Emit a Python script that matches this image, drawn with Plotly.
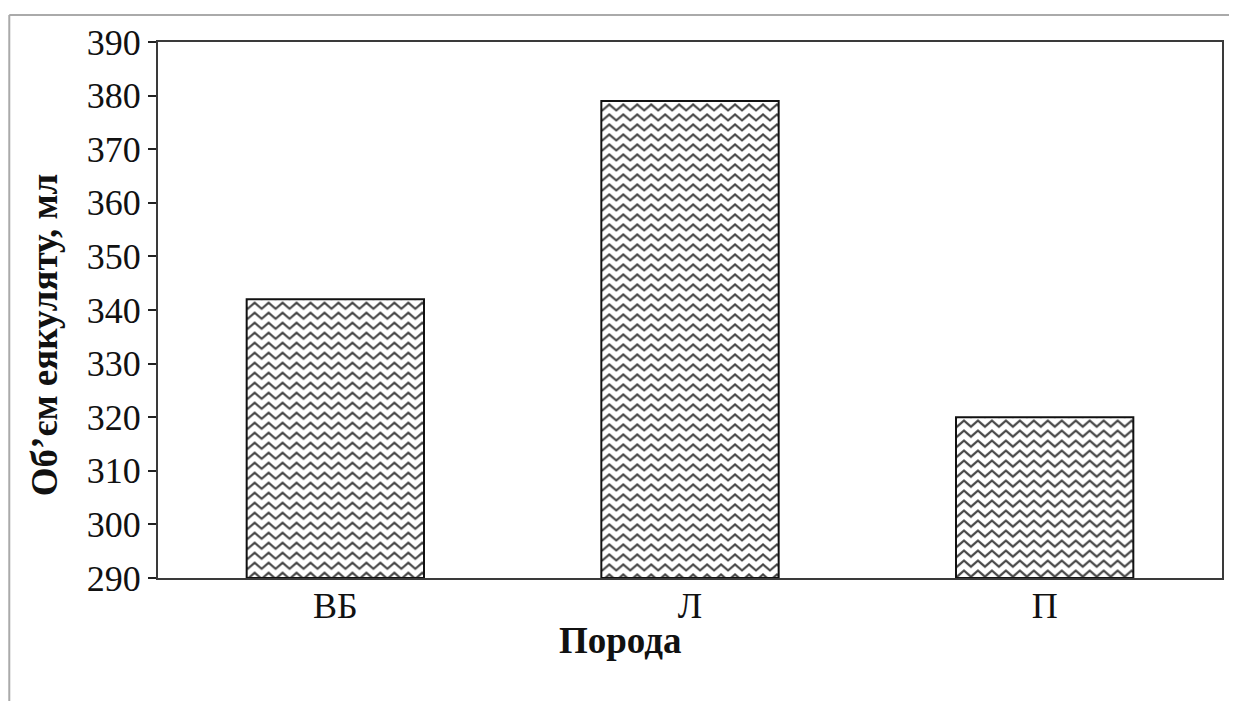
import base64
import plotly.graph_objects as go

categories = ["ВБ", "Л", "П"]
values = [342, 379, 320]
y_ticks = [290, 300, 310, 320, 330, 340, 350, 360, 370, 380, 390]

OFF = 8  # default page body margin
W, H = 1221, 693
ML, MT = 158 - OFF, 42 - OFF
MR = W - (1224 - OFF)
MB = H - (578 - OFF)
y_min, y_max = 290, 390
bar_w = 0.5
FONT = "Liberation Serif, Times New Roman, serif"

pw = W - ML - MR
ph = H - MT - MB
px_x = pw / 3.0
px_y = ph / (y_max - y_min)


def px2paper_x(px):
    return (px - OFF - ML) / pw


def px2paper_y(py):
    return (H - MB - (py - OFF)) / ph


def zigzag_uri(wpx, hpx):
    svg = (
        f'<svg xmlns="http://www.w3.org/2000/svg" width="{wpx:.1f}" height="{hpx:.1f}" '
        f'viewBox="0 0 {wpx:.1f} {hpx:.1f}">'
        '<defs><pattern id="z" width="14" height="10" patternUnits="userSpaceOnUse" x="1" y="2">'
        '<polyline points="-7,1.5 0,7.5 7,1.5 14,7.5 21,1.5" fill="none" stroke="#444444" '
        'stroke-width="2.2" stroke-linejoin="miter"/>'
        '</pattern></defs>'
        '<rect width="100%" height="100%" fill="white"/>'
        '<rect width="100%" height="100%" fill="url(#z)"/></svg>'
    )
    return "data:image/svg+xml;base64," + base64.b64encode(svg.encode()).decode()


xs = list(range(len(categories)))
fig = go.Figure()
fig.add_trace(go.Bar(
    x=xs, y=[v - y_min for v in values], base=y_min, width=bar_w,
    marker=dict(color="rgba(0,0,0,0)", line=dict(color="#111", width=2)),
    hoverinfo="skip",
))

images = []
for i, v in zip(xs, values):
    images.append(dict(
        source=zigzag_uri(bar_w * px_x, (v - y_min) * px_y),
        xref="x", yref="y", x=i - bar_w / 2, y=v,
        sizex=bar_w, sizey=v - y_min, sizing="stretch",
        xanchor="left", yanchor="top", layer="below",
    ))

fig.update_layout(
    width=W, height=H,
    margin=dict(l=ML, r=MR, t=MT, b=MB),
    paper_bgcolor="white", plot_bgcolor="white",
    showlegend=False,
    images=images,
    font=dict(family=FONT, color="#111"),
    xaxis=dict(
        range=[-0.5, 2.5], tickvals=xs, ticktext=categories,
        showgrid=False, zeroline=False, ticks="",
        showline=True, mirror=True, linecolor="#3a3a3a", linewidth=2,
        tickfont=dict(size=36, family=FONT, color="#111"),
        ticklabelstandoff=-5,
    ),
    yaxis=dict(
        range=[y_min, y_max], tickvals=y_ticks,
        showgrid=False, zeroline=False,
        ticks="outside", ticklen=8, tickwidth=2, tickcolor="#222",
        showline=True, mirror=True, linecolor="#3a3a3a", linewidth=2,
        tickfont=dict(size=36, family=FONT, color="#111"),
    ),
    annotations=[
        dict(text="<b>Порода</b>", xref="paper", yref="paper",
             x=px2paper_x(621), y=px2paper_y(640), xanchor="center", yanchor="middle",
             showarrow=False, font=dict(size=37, family=FONT, color="#111")),
        dict(text="<b>Об’єм еякуляту, мл</b>", xref="paper", yref="paper",
             x=px2paper_x(45), y=px2paper_y(335), xanchor="center", yanchor="middle",
             textangle=-90, showarrow=False, font=dict(size=37, family=FONT, color="#111")),
    ],
    shapes=[
        dict(type="line", xref="paper", yref="paper",
             x0=px2paper_x(9), x1=px2paper_x(1240), y0=px2paper_y(15), y1=px2paper_y(15),
             line=dict(color="#aaaaaa", width=2)),
        dict(type="line", xref="paper", yref="paper",
             x0=px2paper_x(9), x1=px2paper_x(9), y0=px2paper_y(15), y1=px2paper_y(712),
             line=dict(color="#aaaaaa", width=2)),
    ],
)

fig.write_html("out.html")
